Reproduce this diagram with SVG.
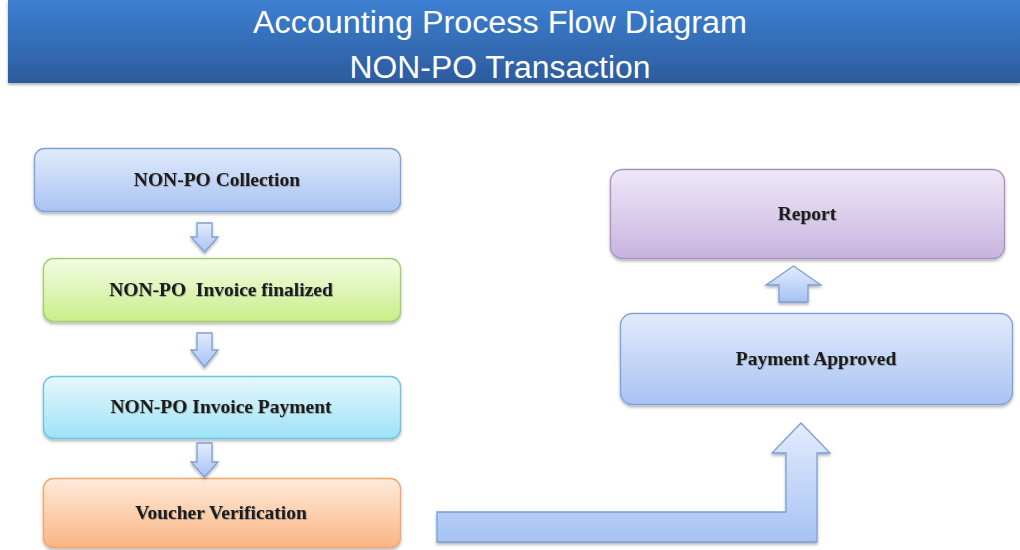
<svg xmlns="http://www.w3.org/2000/svg" width="1020" height="550" viewBox="0 0 1020 550">
<defs>
<linearGradient id="gHead" x1="0" y1="0" x2="0" y2="1"><stop offset="0" stop-color="#3d80d2"/><stop offset="1" stop-color="#2c5b9c"/></linearGradient>
<linearGradient id="gBlue" x1="0" y1="0" x2="0" y2="1"><stop offset="0" stop-color="#e2ebfb"/><stop offset="1" stop-color="#a8c3f3"/></linearGradient>
<linearGradient id="gGreen" x1="0" y1="0" x2="0" y2="1"><stop offset="0" stop-color="#f5fce6"/><stop offset="1" stop-color="#c8ee88"/></linearGradient>
<linearGradient id="gCyan" x1="0" y1="0" x2="0" y2="1"><stop offset="0" stop-color="#e6f8fd"/><stop offset="1" stop-color="#9de2f7"/></linearGradient>
<linearGradient id="gOrange" x1="0" y1="0" x2="0" y2="1"><stop offset="0" stop-color="#fdebdc"/><stop offset="1" stop-color="#fbb582"/></linearGradient>
<linearGradient id="gPurple" x1="0" y1="0" x2="0" y2="1"><stop offset="0" stop-color="#eee8f7"/><stop offset="1" stop-color="#c8b4df"/></linearGradient>
<linearGradient id="gArrow" x1="0" y1="0" x2="0" y2="1"><stop offset="0" stop-color="#e3ecfc"/><stop offset="1" stop-color="#a6c2f4"/></linearGradient>
<filter id="sh" x="-5%" y="-10%" width="110%" height="130%"><feDropShadow dx="0" dy="2" stdDeviation="1.5" flood-color="#000" flood-opacity="0.3"/></filter>
<filter id="tsh" x="-5%" y="-20%" width="110%" height="140%"><feDropShadow dx="0.6" dy="0.6" stdDeviation="0.4" flood-color="#666" flood-opacity="0.8"/></filter>
</defs>
<style>
.box{stroke-width:1.3;filter:url(#sh)}
.lbl{font-family:"Liberation Serif","Times New Roman",serif;font-size:19.5px;font-weight:bold;fill:#1e1e1e;text-anchor:middle;filter:url(#tsh)}
.ttl{font-family:"Liberation Sans",Arial,sans-serif;font-size:31px;fill:#ffffff;text-anchor:middle}
.arr{fill:url(#gArrow);stroke:#7c9fd4;stroke-width:1.3;filter:url(#sh)}
</style>
<g id="header">
<rect x="8" y="0" width="1012" height="83" fill="url(#gHead)" filter="url(#sh)"/>
<text class="ttl" x="500" y="33" textLength="494" lengthAdjust="spacingAndGlyphs">Accounting Process Flow Diagram</text>
<text class="ttl" x="500" y="78" textLength="301" lengthAdjust="spacingAndGlyphs">NON-PO Transaction</text>
</g>
<g id="node-collection">
<rect class="box" x="34.5" y="148.5" width="366" height="63" rx="10" fill="url(#gBlue)" stroke="#7fa2d8"/>
<text class="lbl" x="217" y="186">NON-PO Collection</text>
</g>
<g id="node-invoice-finalized">
<rect class="box" x="43.5" y="258.5" width="357" height="63" rx="10" fill="url(#gGreen)" stroke="#a6cc70"/>
<text class="lbl" x="221" y="296" xml:space="preserve">NON-PO  Invoice finalized</text>
</g>
<g id="node-invoice-payment">
<rect class="box" x="43.5" y="376.5" width="357" height="62" rx="10" fill="url(#gCyan)" stroke="#6ec4de"/>
<text class="lbl" x="221" y="413">NON-PO Invoice Payment</text>
</g>
<g id="node-voucher">
<rect class="box" x="43.5" y="478.5" width="357" height="69" rx="10" fill="url(#gOrange)" stroke="#f2a46c"/>
<text class="lbl" x="221" y="519">Voucher Verification</text>
</g>
<g id="node-report">
<rect class="box" x="610.5" y="169.5" width="394" height="89" rx="12" fill="url(#gPurple)" stroke="#a993c4"/>
<text class="lbl" x="807" y="220">Report</text>
</g>
<g id="node-payment-approved">
<rect class="box" x="620.5" y="313.5" width="392" height="91" rx="12" fill="url(#gBlue)" stroke="#7fa2d8"/>
<text class="lbl" x="816" y="365">Payment Approved</text>
</g>
<g id="connectors">
<path class="arr" d="M197,223 H212 V237 H218 L204.5,252 L191,237 H197 Z"/>
<path class="arr" d="M197,333 H212 V350 H218 L204.5,367 L191,350 H197 Z"/>
<path class="arr" d="M197,443 H212 V462 H218 L204.5,477 L191,462 H197 Z"/>
<path class="arr" d="M779,302 V285 H766 L793.5,266 L821,285 H808 V302 Z"/>
<path class="arr" d="M437,512 H786 V453 H772 L801,423 L830,453 H817 V542 H437 Z"/>
</g>
</svg>
